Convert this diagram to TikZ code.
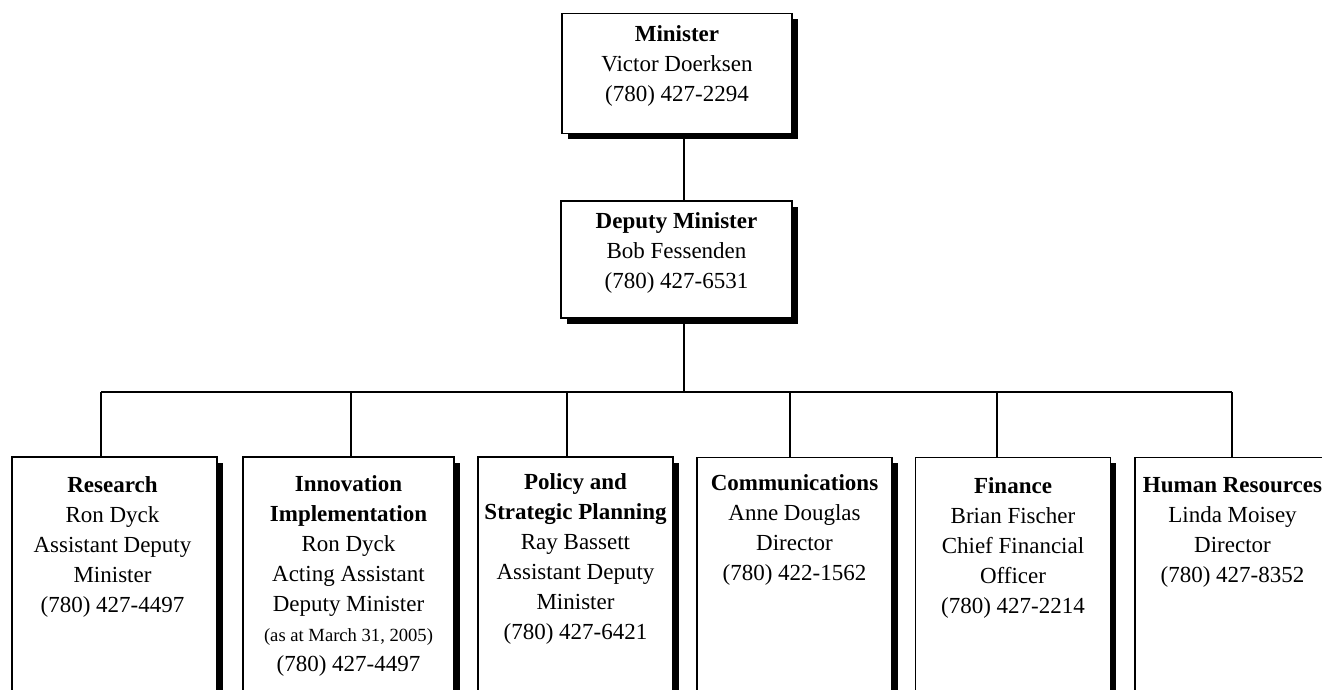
\documentclass[tikz,border=0pt]{standalone}
\usepackage{fontspec}
\setmainfont{Liberation Serif}
\usetikzlibrary{positioning,shadows}

\begin{document}
\begin{tikzpicture}[x=0.5pt, y=-0.5pt,
    unitbox/.style={draw, fill=white, line width=0.7pt, inner sep=0pt,
        drop shadow={shadow xshift=2.8pt, shadow yshift=-2.8pt, opacity=1, fill=black}},
    topbox/.style={unitbox, minimum width=115pt, minimum height=60pt},
    branchbox/.style={unitbox, minimum width=97.5pt, minimum height=126.5pt},
    unittext/.style={align=center, inner sep=0pt, font=\fontsize{11.5}{15}\selectfont},
    link/.style={line width=0.6pt}]
    \useasboundingbox (0,0) rectangle (1322,690);
    \clip (0,0) rectangle (1322,690);

    % Connector points on the bus line
    \coordinate (mid) at (684,392);
    \coordinate (busL) at (101,392);
    \coordinate (busR) at (1232,392);
    \coordinate (resC) at (101,392);
    \coordinate (innC) at (351,392);
    \coordinate (polC) at (567,392);
    \coordinate (comC) at (790,392);
    \coordinate (finC) at (997,392);
    \coordinate (hrC) at (1232,392);

    % Minister and deputy
    \node[topbox] (min) at (677,73.5) {};
    \node[topbox, minimum width=115.5pt, minimum height=58.5pt] (dep) at (676.5,259.5) {};

    % Branches
    \node[branchbox, minimum width=102.5pt] (res) at (114.5,583.5) {};
    \node[branchbox, minimum width=105.5pt] (inn) at (348.5,583.5) {};
    \node[branchbox] (pol) at (575.5,583.5) {};
    \node[branchbox] (com) at (794.5,584) {};
    \node[branchbox] (fin) at (1013,584) {};
    \node[branchbox] (hr) at (1232.5,584) {};

    % Lines
    \draw[link] (min.south -| mid) -- (dep.north -| mid);
    \draw[link] (dep.south -| mid) -- (mid);
    \draw[link] (busL) -- (busR);
    \draw[link] (resC) -- (resC |- res.north);
    \draw[link] (innC) -- (innC |- inn.north);
    \draw[link] (polC) -- (polC |- pol.north);
    \draw[link] (comC) -- (comC |- com.north);
    \draw[link] (finC) -- (finC |- fin.north);
    \draw[link] (hrC) -- (hrC |- hr.north);

    % Texts
    \node[unittext, below=6pt of min.north] (minT) {\textbf{Minister}\\Victor Doerksen\\(780) 427-2294};
    \node[unittext, below=6pt of dep.north] (depT) {\textbf{Deputy Minister}\\Bob Fessenden\\(780) 427-6531};
    \node[unittext, below=10pt of res.north, xshift=-1pt] (resT) {\textbf{Research}\\Ron Dyck\\Assistant Deputy\\Minister\\(780) 427-4497};
    \node[unittext, below=9.5pt of inn.north] (innT) {\textbf{Innovation}\\\textbf{Implementation}\\Ron Dyck\\Acting Assistant\\Deputy Minister\\{\fontsize{9.3}{15}\selectfont (as at March 31, 2005)}\\(780) 427-4497};
    \node[unittext, below=8.5pt of pol.north] (polT) {\textbf{Policy and}\\\textbf{Strategic Planning}\\Ray Bassett\\Assistant Deputy\\Minister\\(780) 427-6421};
    \node[unittext, below=8.5pt of com.north] (comT) {\textbf{Communications}\\Anne Douglas\\Director\\(780) 422-1562};
    \node[unittext, below=10pt of fin.north] (finT) {\textbf{Finance}\\Brian Fischer\\Chief Financial\\Officer\\(780) 427-2214};
    \node[unittext, below=10pt of hr.north] (hrT) {\textbf{Human Resources}\\Linda Moisey\\Director\\(780) 427-8352};
\end{tikzpicture}
\end{document}
